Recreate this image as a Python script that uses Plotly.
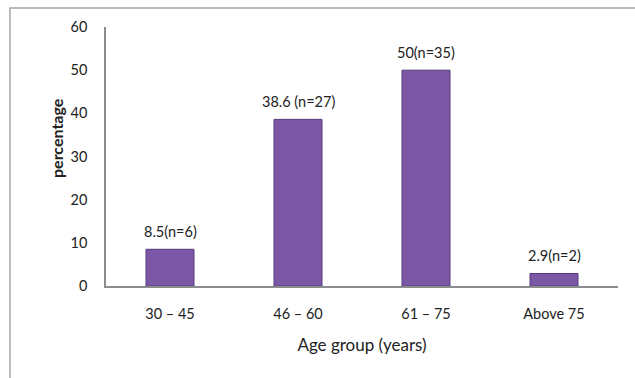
import plotly.graph_objects as go

# Age group distribution
categories = ["30 \u2013 45", "46 \u2013 60", "61 \u2013 75", "Above 75"]
percentages = [8.5, 38.6, 50, 2.9]
bar_labels = ["8.5(n=6)", "38.6 (n=27)", "50(n=35)", "2.9(n=2)"]
y_ticks = [0, 10, 20, 30, 40, 50, 60]

W, H = 635, 378
L, R, T, B = 106, 17, 27, 92
pw, ph = W - L - R, H - T - B

font_family = "Lato, 'Open Sans', sans-serif"
axis_grey = "#8c8c8c"

fig = go.Figure(
    go.Bar(
        x=categories,
        y=percentages,
        marker=dict(color="#7b57a6", line=dict(color="#553a7c", width=1)),
        width=0.375,
    )
)

# value labels above each bar
for cat, val, lab in zip(categories, percentages, bar_labels):
    fig.add_annotation(
        x=cat, y=val, text=lab, showarrow=False,
        yanchor="bottom", yshift=7,
        font=dict(family=font_family, size=14.5, color="#222222"),
    )

# vertical axis title
fig.add_annotation(
    xref="paper", yref="paper",
    x=(56 - L) / pw, y=(T + ph - 138) / ph,
    xanchor="center", yanchor="middle",
    text="<b>percentage</b>", textangle=-90, showarrow=False,
    font=dict(family=font_family, size=16, color="#222222"),
)

# outer chart frame (top and left edges visible)
fig.add_shape(
    type="rect", xref="paper", yref="paper",
    x0=(10 - L) / pw, x1=(W + 20 - L) / pw,
    y0=-(H + 20 - (T + ph)) / ph, y1=(T + ph - 8) / ph,
    line=dict(color="#a6a6a6", width=1.5), fillcolor="rgba(0,0,0,0)",
    layer="below",
)

fig.update_layout(
    width=W, height=H,
    margin=dict(l=L, r=R, t=T, b=B),
    paper_bgcolor="white", plot_bgcolor="white",
    showlegend=False,
    font=dict(family=font_family, size=14, color="#222222"),
    xaxis=dict(
        showline=True, linecolor=axis_grey, linewidth=1.5,
        ticks="", showgrid=False,
        tickfont=dict(size=14.5),
        ticklabelstandoff=14,
        title=dict(text="Age group (years)", font=dict(size=17), standoff=18),
    ),
    yaxis=dict(
        range=[0, 60], tickvals=y_ticks,
        showline=True, linecolor=axis_grey, linewidth=1.5,
        ticks="", showgrid=False, zeroline=False,
        tickfont=dict(size=14.5),
        ticklabelstandoff=14,
    ),
)

fig.write_html("out.html")
